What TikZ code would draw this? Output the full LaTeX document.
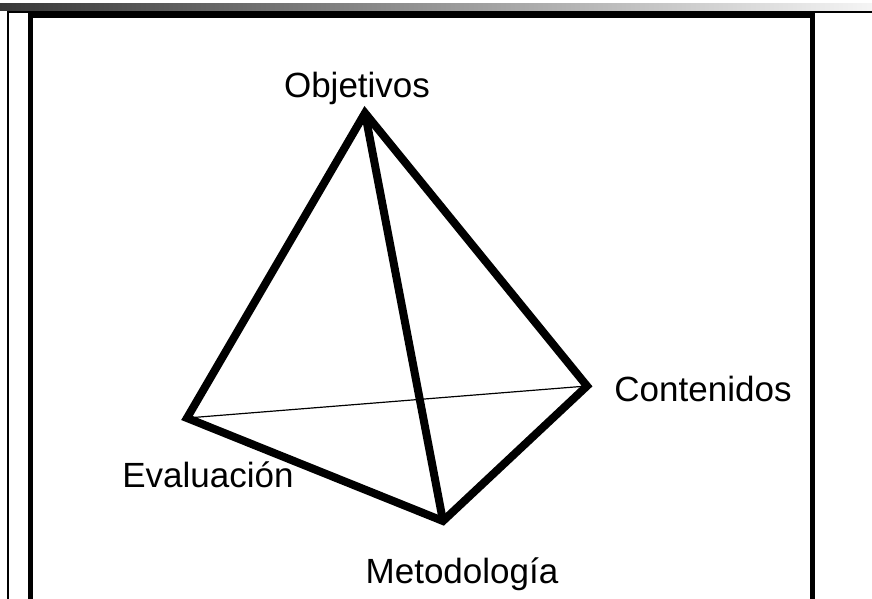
\documentclass[tikz,border=0pt]{standalone}
\usepackage{fontspec}
\setmainfont{Liberation Sans}
\begin{document}
\begin{tikzpicture}[x=1pt,y=-1pt,
  lbl/.style={inner sep=0pt,font=\fontsize{35}{40}\selectfont},
  edgethick/.style={line width=8pt,line join=miter,miter limit=10},
  edgethin/.style={line width=1.2pt},
  framethin/.style={line width=2.5pt},
  framethick/.style={line width=5pt}]
\useasboundingbox (0,0) rectangle (872,599);
\fill[white] (0,0) rectangle (872,599);
% top gradient bar
\shade[left color=black!78,right color=black!4] (0,4) rectangle (872,10.8);
% frame lines
\draw[framethin] (7,12) -- (872,12);
\draw[framethin] (8,11) -- (8,599);
\draw[framethick] (30.5,599) -- (30.5,15.5) -- (812.5,15.5) -- (812.5,599);
% vertices
\coordinate (O) at (365,113);
\coordinate (C) at (587,386);
\coordinate (E) at (187,418);
\coordinate (M) at (443,521);
% edges
\draw[edgethin] (E) -- (C);
\draw[edgethick] (E) -- (O) -- (C) -- (M) -- cycle;
\draw[edgethick] (O) -- (M);
% labels
\node[lbl] (lo) at (357,88) {Objetivos};
\node[lbl] (lc) at (703,389) {Contenidos};
\node[lbl] (le) at (208,475) {Evaluación};
\node[lbl] (lm) at (462,574) {Metodología};
\end{tikzpicture}
\end{document}
